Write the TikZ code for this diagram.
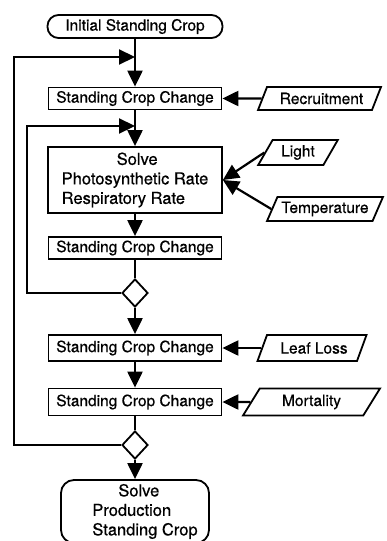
\documentclass[tikz,border=0pt]{standalone}
\usepackage{fontspec}
\newfontfamily\labelfont[FakeBold=0.6]{TeX Gyre Heros}
\usetikzlibrary{arrows.meta,shapes.geometric}

\tikzset{
    box/.style={draw, line width=1.8pt, minimum width=173pt, inner sep=0pt},
    term/.style={box, rounded corners=11pt},
    io/.style={draw, line width=1.8pt, trapezium, trapezium left angle=57,
        trapezium right angle=123, trapezium stretches=true, inner sep=0pt},
    test/.style={draw, line width=1.8pt, diamond, minimum width=26pt,
        minimum height=28pt, inner sep=0pt},
    flow/.style={line width=2.2pt, -{Triangle[length=16pt,width=15pt]}},
    link/.style={line width=2.2pt},
    big/.style={font=\labelfont\fontsize{16.5}{19.5}\selectfont},
}

\begin{document}
\begin{tikzpicture}[x=1pt, y=-1pt, every node/.style={font=\labelfont\fontsize{15.5}{19}\selectfont}]
        \useasboundingbox (0,0) rectangle (386,541);
        \clip (0,0) rectangle (386,541);

        % main column
        \node[term, minimum width=175pt, minimum height=23pt] (init) at (135,26.5) {Initial Standing Crop};
        \node[box, minimum height=22pt] (scc1) at (135,98.5) {Standing Crop Change};
        \node[box, big, minimum width=174pt, minimum height=66pt, align=left] (solve) at (135,180)
            {\hspace*{55pt}Solve\\Photosynthetic Rate\\Respiratory Rate};
        \node[box, minimum height=22pt] (scc2) at (135,248) {Standing Crop Change};
        \node[test] (test1) at (135,293) {};
        \node[box, minimum height=26pt] (scc3) at (135,348) {Standing Crop Change};
        \node[box, minimum height=27pt] (scc4) at (135,402) {Standing Crop Change};
        \node[test] (test2) at (135,445) {};
        \node[term, big, minimum width=148pt, minimum height=63pt, rounded corners=13pt, align=left] (final) at (135,511.5)
            {\hspace*{32pt}Solve\\\hspace*{6pt}Production\\\hspace*{6pt}Standing Crop\hspace*{-14pt}};

        % inputs
        \node[io, minimum width=123pt, minimum height=23pt] (recruit) at (319.5,98.5) {\hspace*{4pt}Recruitment};
        \node[io, minimum width=80pt, minimum height=25pt] (light) at (298,152.5) {Light};
        \node[io, minimum width=116pt, minimum height=24pt] (temp) at (325,209) {Temperature};
        \node[io, minimum width=110pt, minimum height=26pt] (leaf) at (312,348) {\hspace*{4pt}Leaf Loss};
        \node[io, minimum width=137pt, minimum height=27pt] (mort) at (311.5,402) {Mortality};

        % loop corners and joins
        \coordinate (back1) at (14,57);
        \coordinate (join1) at (135,57);
        \coordinate (back2) at (27,126);
        \coordinate (join2) at (135,126);

        \draw[flow] (init) -- (scc1);
        \draw[flow] (scc1) -- (solve);
        \draw[flow] (solve) -- (scc2);
        \draw[link] (scc2) -- (test1);
        \draw[flow] (test1) -- (scc3);
        \draw[flow] (scc3) -- (scc4);
        \draw[link] (scc4) -- (test2);
        \draw[flow] (test2) -- (final);

        \draw[flow] (test1) -| (back2) -- (join2);
        \draw[flow] (test2) -| (back1) -- (join1);

        \draw[flow] (recruit) -- (scc1);
        \draw[flow] (light.west) -- (solve.east);
        \draw[flow] (temp.west) -- (solve.east);
        \draw[flow] (leaf) -- (scc3);
        \draw[flow] (mort) -- (scc4);
    \end{tikzpicture}
\end{document}
